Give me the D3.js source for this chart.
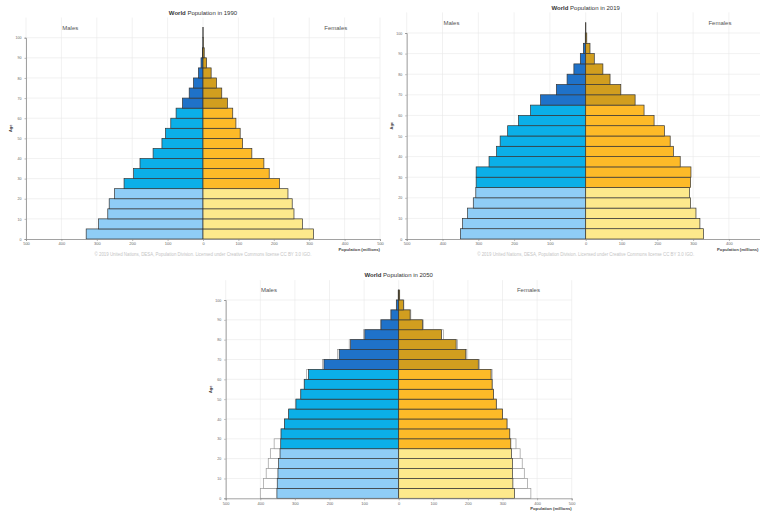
<!DOCTYPE html>
<html>
<head>
<meta charset="utf-8">
<script src="https://cdn.jsdelivr.net/npm/d3@7/dist/d3.min.js"></script>
<style>
  html, body { margin: 0; padding: 0; background: #fff; }
  svg { display: block; font-family: "Liberation Sans", Arial, sans-serif; }
</style>
</head>
<body>
<svg id="chart" width="760" height="514"></svg>
<script>
// ---- Data (millions) ----
const ageGroups = ["0-4","5-9","10-14","15-19","20-24","25-29","30-34","35-39","40-44","45-49",
                   "50-54","55-59","60-64","65-69","70-74","75-79","80-84","85-89","90-94","95-99","100+"];

const males1990   = [330, 295, 269, 265, 250, 223, 196, 178, 141, 116, 106, 91, 76, 58, 39, 27, 13, 5.6, 1.8, 0.3, 0.05];
const females1990 = [312, 281, 257, 252, 240, 216, 187, 172, 138, 112, 105, 93, 84, 69, 53, 38, 23, 10, 3.5, 0.8, 0.1];

const males2019   = [350, 344, 330, 314, 307, 306, 306, 270, 249, 239, 218, 188, 154, 126, 82, 52, 33, 15, 6.5, 1.2, 0.1];
const females2019 = [329, 319, 308, 293, 290, 293, 294, 264, 245, 236, 220, 191, 163, 138, 98, 68, 48, 24, 12, 3, 0.4];

const males2050   = [352, 351, 349, 347, 343, 341, 340, 330, 318, 297, 283, 273, 261, 216, 172, 139, 98, 51, 22, 6, 1.2];
const females2050 = [335, 330, 329, 329, 326, 324, 321, 313, 300, 282, 274, 270, 267, 230, 194, 166, 124, 69, 33, 13.5, 2.5];

// comparison outline shown behind the 2050 pyramid
const outlineMales2050   = [400, 391, 383, 377, 371, 360, 340, 330, 318, 297, 283, 273, 266, 220, 177, 143, 102, 53, 24, 7, 1.5];
const outlineFemales2050 = [382, 372, 363, 357, 351, 339, 321, 313, 300, 282, 274, 270, 270, 233, 197, 170, 129, 71, 35, 15, 3];

const xTicks = [-500, -400, -300, -200, -100, 0, 100, 200, 300, 400, 500];
const yTicks = [0, 10, 20, 30, 40, 50, 60, 70, 80, 90, 100];

const titleBold = "World";
const titleRest = " Population in ";
const maleLabel = "Males", femaleLabel = "Females";
const xAxisLabel = "Population (millions)";
const yAxisLabel = "Age";
const sourceText = "© 2019 United Nations, DESA, Population Division. Licensed under Creative Commons license CC BY 3.0 IGO.";

// ---- Colours ----
const maleColors   = ["#8fcdf6", "#0bafe8", "#1f72c9"];
const femaleColors = ["#fde98c", "#fdba28", "#d19e1f"];
function ageClass(i) { return i < 5 ? 0 : (i < 13 ? 1 : 2); }

const W = 760;

// ---- Panels ----
const panels = [
  { year: 1990, males: males1990, females: females1990, left: 26,    right: 380,   bottom: 239,   top: 37.7, source: true },
  { year: 2019, males: males2019, females: females2019, left: 406.7, right: 764.7, bottom: 239,   top: 33,   source: true },
  { year: 2050, males: males2050, females: females2050, left: 225.7, right: 571.7, bottom: 498.3, top: 300,  source: false,
    outM: outlineMales2050, outF: outlineFemales2050 }
];

const svg = d3.select("#chart");

panels.forEach(p => {
  const x = d3.scaleLinear().domain([-500, 500]).range([p.left, p.right]);
  const y = d3.scaleLinear().domain([0, 100]).range([p.bottom, p.top]);
  const g = svg.append("g");

  // grid
  g.append("g").selectAll("line.v").data(xTicks).join("line")
    .attr("x1", d => x(d)).attr("x2", d => x(d))
    .attr("y1", y(110)).attr("y2", y(0))
    .attr("stroke", "#e8e8e8").attr("stroke-width", 0.6);
  g.append("g").selectAll("line.h").data(yTicks.filter(d => d > 0)).join("line")
    .attr("x1", x(-500)).attr("x2", x(500))
    .attr("y1", d => y(d)).attr("y2", d => y(d))
    .attr("stroke", "#e8e8e8").attr("stroke-width", 0.6);

  const rows = ageGroups.map((a, i) => ({ i, lo: parseInt(a, 10) }));

  // outline comparison bars
  if (p.outM) {
    g.append("g").selectAll("rect").data(rows).join("rect")
      .attr("x", d => x(-p.outM[d.i])).attr("width", d => x(0) - x(-p.outM[d.i]))
      .attr("y", d => y(d.lo + 5)).attr("height", d => y(d.lo) - y(d.lo + 5))
      .attr("fill", "#fff").attr("stroke", "#9a9a9a").attr("stroke-width", 0.7);
    g.append("g").selectAll("rect").data(rows).join("rect")
      .attr("x", x(0)).attr("width", d => x(p.outF[d.i]) - x(0))
      .attr("y", d => y(d.lo + 5)).attr("height", d => y(d.lo) - y(d.lo + 5))
      .attr("fill", "#fff").attr("stroke", "#9a9a9a").attr("stroke-width", 0.7);
  }

  // male bars
  g.append("g").selectAll("rect").data(rows).join("rect")
    .attr("x", d => x(-p.males[d.i])).attr("width", d => x(0) - x(-p.males[d.i]))
    .attr("y", d => y(d.lo + 5)).attr("height", d => y(d.lo) - y(d.lo + 5))
    .attr("fill", d => maleColors[ageClass(d.i)])
    .attr("stroke", "#353535").attr("stroke-width", 0.7);
  // female bars
  g.append("g").selectAll("rect").data(rows).join("rect")
    .attr("x", x(0)).attr("width", d => x(p.females[d.i]) - x(0))
    .attr("y", d => y(d.lo + 5)).attr("height", d => y(d.lo) - y(d.lo + 5))
    .attr("fill", d => femaleColors[ageClass(d.i)])
    .attr("stroke", "#353535").attr("stroke-width", 0.7);

  // x axis (labels that would fall beyond the page edge are not shown, as in the reference)
  const visibleTicks = xTicks.filter(d => x(d) + 4 <= W);
  const xa = g.append("g").attr("transform", `translate(0,${y(0)})`)
    .call(d3.axisBottom(x).tickValues(visibleTicks).tickFormat(d => Math.abs(d)).tickSize(2).tickPadding(1.5));
  xa.select(".domain").attr("stroke", "#8a8a8a").attr("stroke-width", 0.8);
  xa.selectAll(".tick line").attr("stroke", "#8a8a8a").attr("stroke-width", 0.6);
  xa.selectAll(".tick text").attr("font-size", 4).attr("fill", "#666").attr("font-family", null);

  // y axis
  const ya = g.append("g").attr("transform", `translate(${x(-500)},0)`)
    .call(d3.axisLeft(y).tickValues(yTicks).tickSize(1.5).tickPadding(3));
  ya.select(".domain").attr("stroke", "#8a8a8a").attr("stroke-width", 0.8);
  ya.selectAll(".tick line").attr("stroke", "#8a8a8a").attr("stroke-width", 0.6);
  ya.selectAll(".tick text").attr("font-size", 3.6).attr("fill", "#666").attr("font-family", null);

  // title
  const t = g.append("text").attr("x", x(0)).attr("y", y(100) - 23)
    .attr("text-anchor", "middle").attr("font-size", 6).attr("fill", "#333");
  t.append("tspan").attr("font-weight", "bold").text(titleBold);
  t.append("tspan").text(titleRest + p.year);

  // sex labels
  g.append("text").attr("x", x(-375)).attr("y", y(100) - 8)
    .attr("text-anchor", "middle").attr("font-size", 6).attr("fill", "#555").text(maleLabel);
  g.append("text").attr("x", x(375)).attr("y", y(100) - 8)
    .attr("text-anchor", "middle").attr("font-size", 6).attr("fill", "#555").text(femaleLabel);

  // axis labels
  g.append("text").attr("x", Math.min(x(500), W - 1.5)).attr("y", y(0) + 12)
    .attr("text-anchor", "end").attr("font-size", 4.2).attr("font-weight", "bold")
    .attr("fill", "#444").text(xAxisLabel);
  g.append("text")
    .attr("transform", `translate(${x(-500) - 14},${(y(0) + y(110)) / 2}) rotate(-90)`)
    .attr("text-anchor", "middle").attr("font-size", 4).attr("font-weight", "bold")
    .attr("fill", "#444").text(yAxisLabel);

  if (p.source) {
    g.append("text").attr("x", x(0)).attr("y", y(0) + 17)
      .attr("text-anchor", "middle").attr("font-size", 4.5).attr("fill", "#c4c4c4")
      .attr("textLength", 217).attr("lengthAdjust", "spacingAndGlyphs")
      .text(sourceText);
  }
});
</script>
</body>
</html>
